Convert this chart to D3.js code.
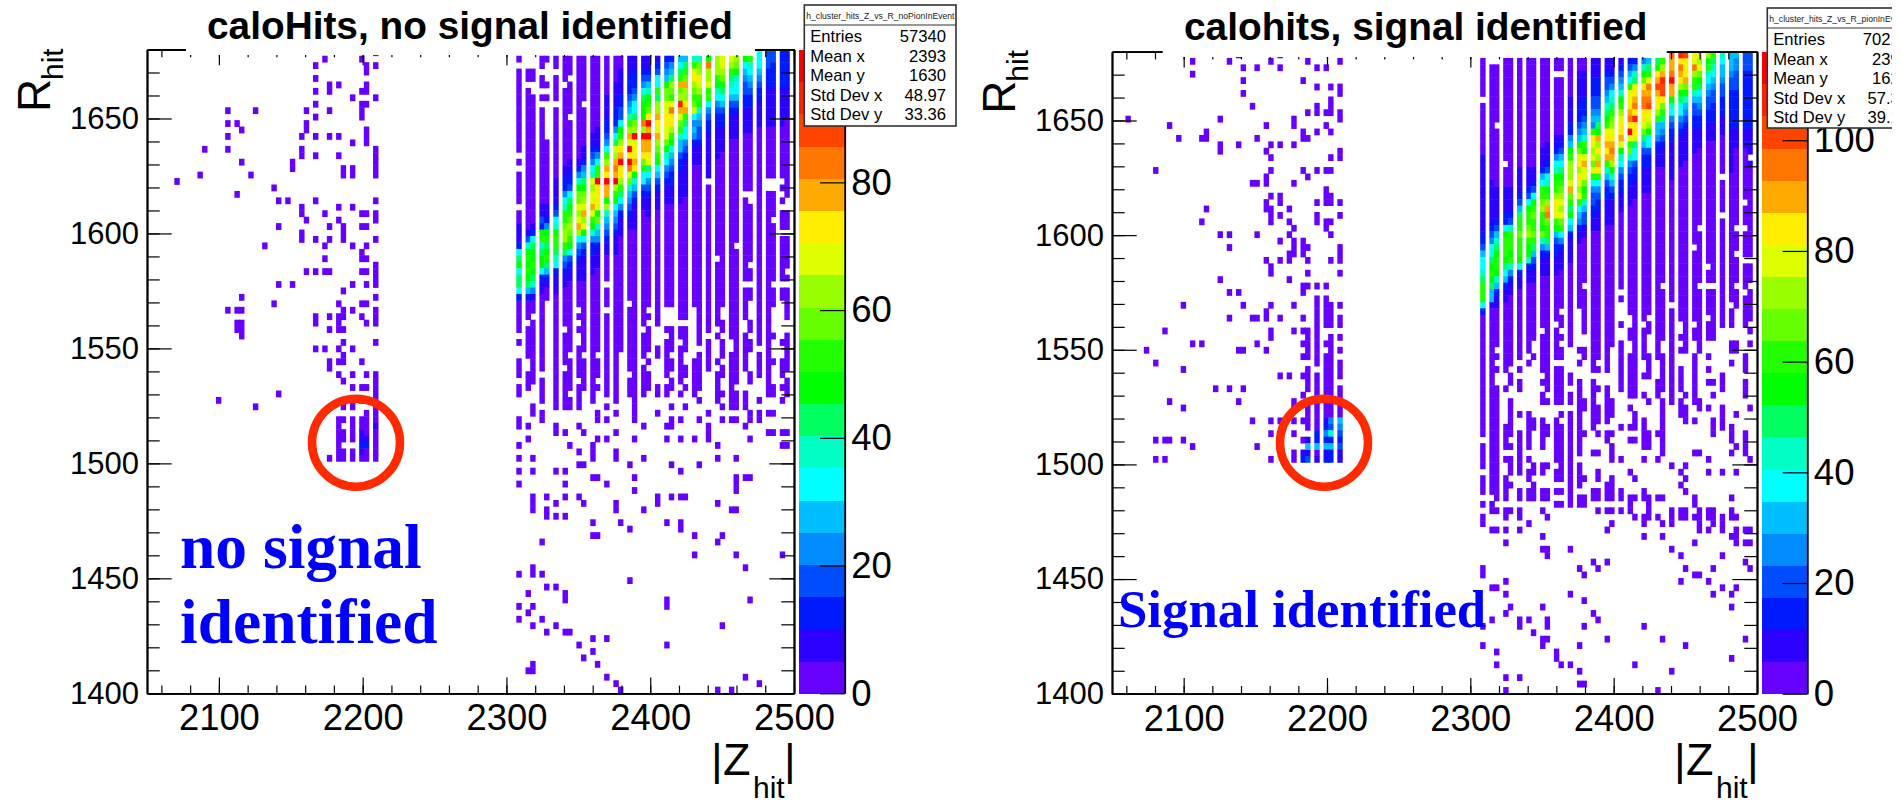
<!DOCTYPE html>
<html lang="en">
<head>
    <meta charset="UTF-8">
    <title>calo hits</title>
    <script src="https://cdn.jsdelivr.net/npm/d3@7"></script>
    <style>
        body { margin: 0; background: white; }
        text { font-family: "Liberation Sans", sans-serif; fill: black; }
        .axis path { stroke: black; stroke-width: 1.8; }
        .axis line { stroke: black; stroke-width: 1.2; }
    </style>
</head>
<body>
    <script>
        //histogram binning and tick labels
        var zRange = [2050, 2500];
        var rRange = [1400, 1680];
        var zBins = 140;
        var rBins = 100;
        var zMajor = [2100, 2200, 2300, 2400, 2500];
        var rMajor = [1400, 1450, 1500, 1550, 1600, 1650];
        var barTicks = [0, 20, 40, 60, 80, 100];

        //one colour per contour level, bottom to top
        var palette = ['#6600ff', '#2b00ff', '#0019ff', '#004cff', '#008cff', '#00bfff', '#00ffff', '#00ffc4',
            '#00ff60', '#00ff00', '#22ff00', '#66ff00', '#99ff00', '#ddff00', '#ffee00', '#ffaa00',
            '#ff7700', '#ff4400', '#ff2200', '#ff0000'];

        //z bins of the densely filled columns (counted from bin 80)
        var ridgeCols = [0, 2, 3, 5, 6, 8, 10, 11, 13, 14, 16, 17, 19, 21, 22, 24, 25, 27, 28, 30, 32, 33, 35, 36, 38, 39,
            41, 43, 44, 46, 47, 49, 50, 52, 54, 55, 57, 58];

        //contour level per cell, one string per column, R bin 98 downwards (. = empty)
        var leftRidge = [
            '0.00000000 00000.0.00 000.001112 68968862',
            '..00.00000 0000000000 0000000137 9a9a9852',
            '..00..0000 0000000000 0000001268 99a98741',
            '00.00.0.00 0000000000 00011329a7 89962110',
            '0...0.0... ...0000000 00011249a8 9a852100',
            '00.0000.00 0000000001 11123679aa 87621110',
            '0000.00000 0000000112 2467aabcca 84321100',
            '000.00000. 0000001122 3689abcba9 63211000',
            '0000000000 0000001247 9bbdcdfc64 32111000',
            '0000000.00 0000112458 9bcdfcd963 21111000',
            '0000000000 001123467d cddfda9742 21110000',
            '0000000000 0111246aaj eeed9b7542 11100000',
            '0000001111 22346acfej ff9c754321 10000.00',
            '0000111122 2468dcfgfj ca96543211 10000000',
            '0011112233 69acefjeec a864211100 00000000',
            '1112223457 acfdjejgdb 7543211000 00000000',
            '1122234668 bcjdeefe97 5321111000 00000000',
            '1123468999 gcjffeba66 3211000000 00000000',
            '1123579abe jfjffed864 3211100000 00000000',
            '12366a8ccf edfcba9653 2111000000 00000000',
            '23459bbdde eddb976432 1110000000 00000000',
            '2458cbadge eca9654322 1110000000 00000000',
            '568afbcifd ba75532211 1110000000 00000000',
            '58abfccefa 8664321111 1100000000 00000000',
            '7adecbabd6 4542111000 0000000000 00000000',
            '7bcedca975 4332111000 0000000000 00000000',
            '9gccdaa643 221111111. 0000000000 00000000',
            'ccca976432 2111110000 0000000000 0.000000',
            'ddcb986532 2111100000 0000000000 00000000',
            'dca8765321 1110000000 0000000000 00000000',
            'cb97665321 1110000000 000000000. 00000000',
            '9654332211 1100000000 0.00000000 00000.00',
            'a765432211 1100000000 0..0000000 00.00.00',
            '6654322111 1000000000 0000000000 00000000',
            '3322211111 100000000. .000000000 00000000',
            '3222211111 100000000. .0000.0000 00000.00',
            '2222211111 100000000. 0.0.000.00 00000.00',
            '2222211111 0000000000 00..000.00 000.0.00'
        ];

        //same, right plot; first columns carry on to R bin 58
        var rightRidge = [
            '000000.000 0000011111 1111111223 56678aaa 620',
            '.000000000 0000000001 1111112346 689a9855 100',
            '.000000000 .000000000 1111123578 9aa97521 100',
            '0000000000 000000.000 1111226 9aa a9865211',
            '0000000000 0000000000 1111237aaa 9a742110',
            '0000000000 0000000111 12358aabaa a9621100',
            '0000000000 0000000111 2369aabca9 97211000',
            '0000000000 0000000112 369abaaba8 53211000',
            '0000000000 0000111256 aabcaa9b74 21110000',
            '0000000000 0001112367 9acfgbaa85 21110000',
            '00.0000000 001124679a acedea9532 21110000',
            '00.0000000 001235689a bcdcdba642 11100000',
            '0000001111 22459acccd fba8965211 11000000',
            '0011111222 3459bdeced cda6542110 00000000',
            '0011112223 457a9dfddb 9a75331100 00000.00',
            '1112223345 4aedcdbda6 4332211000 00000000',
            '1112223345 89fcecfea6 4322111000 00000000',
            '1123345789 aeefefa753 2211110000 00000000',
            '11234678ab cdefgfc975 3211110000 00000000',
            '1234579acd eefd976432 2111000000 000000.0',
            '2356addefg ejdab74322 1110000000 00000000',
            '2478defgei eed8663221 1100000000 00000000',
            '479befggee db85322111 1000000000 00000000',
            '58adgfghed c966322111 1000000000 00000000',
            '89efhfeeca 5542211000 0000000000 00000000',
            'acfihheba8 5432111000 0000000000 00000.00',
            'ffgjff9764 3221111110 0000000000 00000000',
            'egfec98664 3211111000 0000000000 00000000',
            'eeefb97543 2111110000 0000000000 00000000',
            'dgcaa75332 2111100000 000000000. 00000000',
            'cdb9865432 2111000000 000000.000 00000.00',
            '9a76543322 1110000000 0000000000 00.00.00',
            '8765433222 1110000000 0000000000 00000.00',
            '6554332221 11000000.0 0000.00000 00000000',
            '5543322222 2111111100 0000000000 00000000',
            '4433322222 2111000000 000000.000 .0000.00',
            '3322222222 2111000000 00.000.000 0.0000.0',
            '3322222222 21111.1000 0000000000 0.000.00'
        ];

        //cells of the top row that stay visible: [column, level]
        var leftTopRow = [[52, 6], [54, 3], [55, 3], [57, 2], [58, 2]];
        var rightTopRow = [[41, 16], [43, 18], [44, 17], [46, 14], [47, 13], [49, 12], [50, 10], [52, 7], [54, 5], [55, 5], [57, 3], [58, 3]];

        //single hits below the ridge: [R bin, columns counted from bin 80...]
        var leftOuter = [
            [60, 0, 2, 3, 5, 8, 10, 11, 13, 14, 16, 17, 19, 21, 22, 25, 27, 28, 30, 32, 33, 35, 36, 38, 39, 41, 43, 44, 46, 47, 49, 52, 54, 55, 58],
            [59, 0, 2, 3, 5, 8, 10, 11, 14, 16, 17, 21, 22, 24, 25, 27, 30, 35, 36, 39, 41, 43, 46, 47, 49, 52, 54, 58],
            [58, 0, 2, 5, 8, 10, 11, 13, 14, 16, 17, 19, 21, 22, 24, 25, 27, 28, 30, 35, 36, 39, 41, 43, 46, 47, 49, 52, 54, 58],
            [57, 0, 3, 5, 8, 10, 11, 14, 16, 17, 19, 21, 22, 24, 25, 27, 30, 39, 41, 43, 44, 46, 47, 50, 52, 54],
            [56, 0, 2, 3, 5, 8, 11, 13, 14, 16, 17, 19, 21, 22, 24, 25, 28, 32, 33, 35, 36, 39, 41, 44, 46, 47, 50, 52, 54],
            [55, 2, 3, 5, 8, 10, 11, 14, 16, 17, 19, 21, 22, 24, 25, 27, 28, 33, 35, 36, 39, 43, 46, 47, 49, 52, 54, 55, 58],
            [54, 0, 2, 3, 5, 8, 10, 11, 14, 16, 17, 19, 21, 22, 24, 25, 27, 28, 32, 33, 36, 39, 41, 44, 47, 49, 50, 52, 54, 57, 58],
            [53, 2, 3, 5, 8, 10, 11, 13, 14, 16, 17, 19, 21, 22, 24, 25, 27, 28, 30, 32, 33, 35, 36, 41, 44, 47, 49, 50, 54, 58],
            [52, 2, 3, 5, 8, 10, 13, 16, 19, 21, 24, 25, 27, 30, 32, 35, 39, 41, 44, 46, 47, 49, 52, 54, 58],
            [51, 0, 3, 5, 8, 10, 11, 13, 14, 16, 17, 19, 21, 24, 25, 28, 32, 33, 35, 38, 39, 41, 43, 46, 47, 49, 52, 54, 55, 57, 58],
            [50, 0, 3, 5, 8, 11, 13, 14, 16, 17, 19, 21, 24, 25, 27, 32, 33, 35, 36, 38, 39, 41, 44, 46, 47, 49, 52, 54, 57, 58],
            [49, 0, 2, 3, 8, 10, 11, 13, 14, 16, 17, 19, 21, 25, 27, 28, 32, 35, 36, 38, 39, 43, 44, 46, 47, 50, 52, 54, 57],
            [48, 2, 3, 5, 8, 10, 11, 14, 16, 19, 21, 24, 25, 27, 28, 33, 35, 38, 39, 43, 46, 47, 50, 54, 58],
            [47, 0, 2, 5, 8, 10, 11, 13, 14, 16, 17, 19, 21, 24, 25, 27, 28, 30, 32, 33, 36, 38, 39, 43, 46, 54, 55, 57, 58],
            [46, 0, 5, 8, 10, 13, 16, 19, 21, 24, 25, 27, 30, 32, 35, 38, 43, 44, 46, 47, 49, 54, 55, 58],
            [45, 5, 8, 10, 11, 13, 16, 21, 25, 39, 43, 46, 47, 49, 52, 57],
            [44, 3, 8, 10, 11, 13, 19, 25, 33, 36, 44, 46, 47, 49],
            [43, 3, 5, 17, 21, 25, 30, 41, 50, 52, 54, 55],
            [42, 0, 5, 17, 19, 25, 33, 35, 39, 44, 46, 47, 50, 52],
            [41, 0, 2, 8, 13, 27, 32, 33, 41, 49],
            [40, 8, 10, 14, 21, 41, 54, 55, 57, 58],
            [39, 2, 17, 19, 25, 32, 35, 38, 41, 50],
            [38, 0, 11, 16, 43, 57, 58],
            [37, 13, 16, 21],
            [36, 0, 3, 16, 21, 27, 43, 47],
            [35, 13, 14, 24, 33, 39],
            [34, 0, 3, 8, 10, 35],
            [33, 16, 17, 25, 47, 49, 50],
            [32, 0, 10, 19, 47],
            [31, 25, 47],
            [30, 3, 6, 10, 13, 30, 33, 35, 36],
            [29, 3, 8, 14, 21, 30, 43],
            [28, 3, 6, 21, 27, 46, 47],
            [27, 6, 8, 10],
            [26, 16, 22, 32, 35],
            [25, 24, 35],
            [24, 16, 17, 38, 44],
            [23, 5, 43],
            [21, 38, 47, 57],
            [19, 3, 49],
            [18, 0, 3, 5],
            [17, 24],
            [16, 6, 8],
            [15, 2, 10],
            [14, 10, 32, 50],
            [13, 0, 3, 32],
            [12, 2],
            [11, 0, 5],
            [10, 3, 8, 44],
            [9, 6, 10, 11],
            [8, 16, 19],
            [7, 13, 32],
            [6, 16],
            [5, 14],
            [4, 3, 17],
            [3, 2, 3],
            [2, 19, 49],
            [1, 21, 52],
            [0, 22, 43, 46]
        ];

        var rightOuter = [
            [60, 0, 2, 3, 5, 6, 8, 10, 11, 13, 14, 16, 17, 19, 21, 22, 24, 25, 27, 28, 32, 33, 35, 36, 38, 39, 43, 44, 46, 47, 49, 50, 52, 55, 57, 58],
            [59, 5, 6, 8, 10, 11, 13, 14, 16, 19, 22, 24, 25, 27, 28, 32, 33, 35, 36, 38, 39, 41, 43, 44, 46, 47, 49, 50, 52, 54, 57, 58],
            [58, 5, 6, 8, 10, 11, 13, 14, 16, 17, 19, 22, 24, 25, 27, 28, 33, 35, 38, 39, 41, 43, 44, 46, 47, 50, 52, 54, 57, 58],
            [57, 0, 2, 3, 5, 6, 8, 10, 11, 13, 14, 17, 19, 22, 24, 25, 27, 28, 30, 33, 36, 38, 39, 41, 44, 47, 49, 50, 52, 54, 57],
            [56, 0, 2, 3, 5, 6, 8, 10, 11, 14, 16, 19, 22, 24, 25, 27, 28, 32, 33, 35, 36, 38, 39, 41, 44, 46, 47, 49, 50, 58],
            [55, 0, 2, 3, 5, 6, 8, 10, 11, 13, 14, 16, 17, 19, 24, 25, 27, 28, 32, 33, 35, 38, 39, 41, 43, 44, 46, 47, 49, 50],
            [54, 0, 2, 3, 5, 6, 8, 10, 13, 14, 16, 19, 24, 25, 27, 28, 30, 33, 35, 38, 41, 44, 47, 54, 55, 58],
            [53, 0, 2, 5, 6, 8, 10, 13, 14, 16, 17, 21, 22, 24, 25, 27, 30, 33, 35, 38, 41, 43, 44, 47, 54, 55],
            [52, 0, 2, 3, 5, 6, 8, 11, 13, 14, 16, 17, 22, 24, 25, 27, 30, 32, 33, 35, 36, 38, 39, 41, 46, 49, 57],
            [51, 0, 2, 5, 6, 10, 13, 14, 21, 24, 27, 30, 32, 33, 36, 39, 41, 46, 54, 57],
            [50, 0, 2, 3, 5, 8, 13, 14, 16, 17, 24, 25, 27, 30, 32, 33, 36, 39, 41, 43, 46, 49, 57],
            [49, 0, 2, 6, 14, 16, 17, 19, 30, 32, 33, 35, 36, 39, 41, 43, 46, 52],
            [48, 0, 2, 6, 8, 13, 14, 16, 17, 19, 21, 24, 30, 32, 33, 38, 39, 41, 43, 46, 49, 50, 52, 57],
            [47, 0, 2, 3, 5, 8, 14, 16, 17, 21, 24, 25, 27, 30, 32, 33, 38, 39, 41, 43, 46, 52, 57],
            [46, 0, 2, 3, 13, 16, 17, 19, 21, 24, 27, 32, 33, 35, 38, 41, 44, 46, 50, 57],
            [45, 0, 2, 3, 6, 13, 14, 16, 17, 19, 21, 22, 24, 27, 28, 36, 39, 41, 43, 46, 47],
            [44, 0, 2, 3, 6, 21, 22, 24, 25, 27, 28, 32, 39, 43, 44, 47, 49, 52, 58],
            [43, 0, 2, 3, 6, 8, 10, 17, 19, 21, 24, 25, 27, 28, 33, 39, 43, 44, 52, 55],
            [42, 0, 2, 3, 6, 10, 11, 13, 16, 19, 21, 24, 25, 27, 33, 35, 39, 44, 46, 50, 52],
            [41, 0, 2, 3, 5, 6, 10, 11, 13, 14, 16, 17, 19, 21, 24, 30, 32, 33, 35, 39, 50, 52, 54],
            [40, 0, 2, 3, 5, 6, 8, 10, 13, 14, 16, 17, 19, 21, 22, 25, 27, 28, 35, 36, 38, 39, 50, 54, 57],
            [39, 2, 3, 5, 8, 10, 13, 16, 17, 19, 21, 27, 32, 33, 35, 36, 39, 54, 57],
            [38, 0, 2, 3, 5, 6, 8, 10, 13, 16, 17, 19, 21, 28, 35, 36, 39, 55, 57],
            [37, 0, 2, 3, 8, 16, 17, 19, 21, 24, 25, 28, 39, 46, 47, 54, 57],
            [36, 0, 2, 3, 5, 6, 8, 10, 16, 17, 19, 28, 30, 35, 38, 49, 58],
            [35, 0, 2, 3, 6, 8, 11, 13, 14, 17, 19, 21, 41, 44],
            [34, 2, 3, 6, 8, 10, 11, 13, 16, 17, 19, 21, 25, 32, 43, 49, 52, 55],
            [33, 0, 2, 3, 5, 10, 16, 17, 19, 21, 22, 25, 28, 33, 44],
            [32, 0, 2, 3, 5, 6, 11, 19, 21, 27, 28, 43],
            [31, 0, 2, 3, 5, 8, 10, 11, 13, 14, 16, 17, 19, 24, 25, 27, 28, 30, 35, 44],
            [30, 3, 5, 8, 10, 11, 13, 14, 19, 21, 22, 24, 25, 27, 28, 30, 32, 33, 35, 36, 38, 39, 46, 54],
            [29, 0, 2, 16, 17, 19, 21, 22, 32, 36, 46],
            [28, 2, 3, 5, 6, 8, 13, 25, 27, 28, 30, 32, 36, 41, 43, 44, 47, 49, 50, 54],
            [27, 0, 5, 8, 14, 33, 35, 36, 38, 41, 43, 44, 46, 47, 49, 50, 52, 54, 55],
            [26, 0, 10, 28, 35, 39, 41, 47, 50, 52],
            [25, 2, 3, 5, 8, 27, 47, 49, 52, 55, 57, 58],
            [24, 13, 35, 39, 54, 55],
            [23, 5, 46, 55, 57, 58],
            [22, 13, 14, 19, 41],
            [21, 14, 43, 52],
            [20, 24, 27, 57],
            [19, 0, 21, 25, 44, 50, 58],
            [18, 0, 22, 46, 47],
            [17, 5, 43, 49],
            [16, 2, 3, 52, 55],
            [15, 5, 19, 50, 54],
            [14, 22],
            [13, 6, 13, 54],
            [12, 5, 24],
            [11, 2, 8, 10, 14, 25],
            [10, 0, 8, 14, 22, 35],
            [9, 11],
            [8, 13, 14, 27, 39, 57],
            [7, 0, 13, 21, 44],
            [6, 3, 16],
            [5, 16, 54],
            [4, 3, 17, 19, 33],
            [3, 21, 41],
            [2, 5, 8],
            [1, 21, 22],
            [0, 5, 38]
        ];

        //hits of the inner part: [R bin, z bins...]
        var leftInner = [
            [99, 49], [98, 38, 46], [97, 36, 47, 49], [96, 47], [95, 36], [94, 39, 41, 47], [93, 36, 39, 46, 47], [92, 44, 49], [91, 36, 46, 47],
            [90, 17, 23, 34, 39, 46], [89, 36, 46], [88, 17, 19, 34], [87, 20, 34, 47], [86, 17, 33, 36, 39, 41, 47], [85, 44, 47],
            [84, 12, 17, 33, 49], [83, 33, 36, 41, 49], [82, 20, 31, 49], [81, 31, 42, 44, 49], [80, 11, 22, 42, 44, 49],
            [79, 6], [78, 27], [77, 19], [76, 28, 30, 36, 49], [75, 33, 41, 44], [74, 33, 38, 46, 47, 49], [73, 34, 41, 49],
            [72, 28, 39, 42, 46, 47], [71, 33, 42], [70, 33, 36, 39, 42, 49], [69, 25, 38, 44, 47], [68, 46], [67, 38, 46, 47], [66, 49],
            [65, 34, 36, 38, 39, 46, 47, 49], [64, 49], [63, 28, 31, 44, 47, 49], [62, 42], [61, 20, 49], [60, 27, 41, 46, 47],
            [59, 17, 19, 20, 42, 44, 49], [58, 36, 39, 41, 42, 46, 49], [57, 19, 20, 36, 41, 47, 49], [56, 19, 20, 39, 41, 42], [55, 20],
            [54, 42, 49], [53, 36, 38, 41, 44], [52, 42], [51, 39, 41, 42, 46], [50, 39], [49, 41, 44, 47, 49], [48, 42, 49],
            [47, 44, 46, 47, 49], [46, 28, 49], [45, 15, 42, 44, 46, 47, 49], [44, 23, 42, 44, 49], [43, 47, 49],
            [42, 41, 42, 44, 46, 47, 49], [41, 41, 44, 46, 47, 49], [40, 41, 42, 44, 46, 47, 49], [39, 41, 42, 44, 46, 47, 49],
            [38, 41, 46, 47, 49], [37, 41, 42, 44, 46, 47, 49], [36, 39, 41, 42, 44, 46, 47, 49]
        ];

        var rightInner = [
            [99, 27, 36], [98, 17, 25, 34, 42, 49], [97, 28, 31, 36, 44, 46], [96, 17], [95, 28, 41], [94, 44, 47, 49], [93, 28, 49], [92, 47],
            [91, 30, 44, 47], [90, 42, 44, 46, 47, 49], [89, 3, 23, 39, 49], [88, 12, 33, 39, 46], [87, 20, 41, 44, 47], [86, 14, 19, 20, 31, 41, 42],
            [85, 23, 27, 34, 36, 39], [84, 23, 33, 49], [83, 34, 47, 49], [81, 9, 34, 41, 44, 46, 47], [80, 33, 42], [79, 30, 31, 33, 39],
            [78, 46], [77, 34, 36, 46, 47], [76, 33, 36, 44, 46, 47, 49], [75, 20, 33, 34, 38], [74, 34, 36, 44, 49], [73, 19, 34, 38, 44, 46, 47],
            [72, 39, 46], [71, 23, 25, 31, 38, 47], [70, 36, 39, 41], [69, 25, 39, 41, 42, 49], [68, 38, 39, 41, 49], [67, 33, 36, 38, 42, 47, 49],
            [66, 34], [65, 34, 42, 49], [64, 23, 38], [63, 41, 42, 44, 46], [62, 25, 27, 41], [61, 44, 46],
            [60, 15, 28, 34, 39, 44, 46, 47, 49], [59, 33, 44, 46, 47], [58, 25, 30, 31, 33, 36, 41, 44, 46, 47, 49], [57, 44, 46, 47, 49],
            [56, 11, 34, 39, 41, 42, 44], [55, 34, 42, 44, 47, 49], [54, 17, 19, 31, 41, 42, 44, 46, 47], [53, 7, 27, 28, 33, 42, 44, 47, 49],
            [52, 41, 42, 44, 46, 47], [51, 9, 44, 46, 47, 49], [50, 15, 42, 46, 47, 49], [49, 36, 38, 41, 42, 44, 46, 47, 49], [48, 42, 44, 46, 47],
            [47, 22, 25, 28, 42, 44, 46, 47, 49], [46, 41, 44, 46, 47, 49], [45, 12, 27, 39, 42, 44, 46, 47, 49], [44, 15, 39, 42, 44, 46, 47, 49],
            [43, 42, 44, 46, 47, 49], [42, 30, 34, 36, 39, 41, 42, 44], [41, 42, 44], [40, 34, 39], [39, 9, 11, 12, 15, 41],
            [38, 17, 31, 36], [37, 39, 41, 42, 44], [36, 9, 11, 34, 39]
        ];

        //inside the circles, cells above the lowest level: [R bin, z bin, level]
        var leftCircle = [[41, 49, 1], [40, 46, 1], [39, 46, 1], [39, 47, 1], [38, 46, 2], [38, 47, 2], [37, 46, 1]];
        var rightCircle = [
            [42, 46, 1], [42, 47, 4], [42, 49, 5], [41, 46, 2], [41, 47, 3], [41, 49, 4], [40, 44, 2], [40, 46, 4], [40, 47, 7], [40, 49, 3],
            [39, 42, 1], [39, 44, 2], [39, 46, 2], [39, 47, 2], [39, 49, 2], [38, 42, 5], [38, 44, 5], [38, 46, 5], [38, 47, 5], [38, 49, 3],
            [37, 41, 1], [37, 42, 1], [37, 46, 1], [37, 47, 2], [37, 49, 1], [36, 41, 2], [36, 42, 3], [36, 44, 1], [36, 46, 2], [36, 47, 2], [36, 49, 1]
        ];

        //stats boxes
        var leftStats = [['Entries', '57340'], ['Mean x', '2393'], ['Mean y', '1630'], ['Std Dev x', '48.97'], ['Std Dev y', '33.36']];
        var rightStats = [['Entries', '70217'], ['Mean x', '2394'], ['Mean y', '1625'], ['Std Dev x', '57.31'], ['Std Dev y', '39.12']];

        var levelChars = '0123456789abcdefghij';

        var svg = d3.select('body')
                    .append('svg')
                    .attr('width', 1901)
                    .attr('height', 800);

        //clip for the right stats box, the picture is cut off there
        svg.append('clipPath')
            .attr('id', 'cut')
            .append('rect')
            .attr('x', 1700).attr('y', 0).attr('width', 192).attr('height', 200);

        function collectCells(ridge, outer, inner, circle, topRow) {
            var cells = new Map();
            function put(i, j, level) {
                cells.set(i + '_' + j, {i: i, j: j, level: level});
            }
            outer.forEach(function(row) {
                row.slice(1).forEach(function(p) { put(80 + p, row[0], 0); });
            });
            inner.forEach(function(row) {
                row.slice(1).forEach(function(i) { put(i, row[0], 0); });
            });
            ridge.forEach(function(s, c) {
                var chars = s.replace(/ /g, '');
                for (var k = 0; k < chars.length; k++) {
                    if (chars[k] !== '.') {
                        put(80 + ridgeCols[c], 98 - k, levelChars.indexOf(chars[k]));
                    }
                }
            });
            topRow.forEach(function(d) { put(80 + d[0], 99, d[1]); });
            circle.forEach(function(d) { put(d[1], d[0], d[2]); });
            return Array.from(cells.values());
        }

        function drawPanel(p) {
            var xScale = d3.scaleLinear().domain(zRange).range([p.left, p.right]);
            var yScale = d3.scaleLinear().domain(rRange).range([p.bottom, p.top]);
            var barScale = d3.scaleLinear().domain([0, p.zMax]).range([p.bottom, p.top]);
            var color = d3.scaleQuantize().domain([0, p.zMax]).range(palette);
            var zw = (zRange[1] - zRange[0]) / zBins;
            var rw = (rRange[1] - rRange[0]) / rBins;

            //cells, a little oversized because the original is slightly blurred
            svg.append('g')
                .selectAll('rect')
                .data(p.cells)
                .enter()
                .append('rect')
                .attr('x', function(d) { return xScale(zRange[0] + d.i * zw) - 0.4; })
                .attr('y', function(d) { return yScale(rRange[0] + (d.j + 1) * rw) - 0.2; })
                .attr('width', xScale(zRange[0] + zw) - xScale(zRange[0]) + 0.8)
                .attr('height', yScale(rRange[0]) - yScale(rRange[0] + rw) + 0.4)
                .attr('fill', function(d) { return color((d.level + 0.5) * p.zMax / palette.length); });

            //axes, ticks point inwards like in ROOT
            var zMinor = d3.range(2060, 2501, 20);
            var rMinor = d3.range(1410, 1680, 10);
            function noText(g) { g.selectAll('text').remove(); }

            svg.append('g').attr('class', 'axis').attr('transform', 'translate(0,' + p.bottom + ')')
                .call(d3.axisBottom(xScale).tickValues(zMajor).tickFormat(d3.format('d')).tickSizeInner(-15.7).tickSizeOuter(0).tickPadding(11))
                .call(function(g) { g.selectAll('text').attr('font-size', 36.4).attr('font-family', '"Liberation Sans"'); });
            svg.append('g').attr('class', 'axis').attr('transform', 'translate(0,' + p.bottom + ')')
                .call(d3.axisBottom(xScale).tickValues(zMinor).tickSizeInner(-7.7).tickSizeOuter(0)).call(noText);
            svg.append('g').attr('class', 'axis').attr('transform', 'translate(0,' + p.top + ')')
                .call(d3.axisTop(xScale).tickValues(zMajor).tickSizeInner(-15.7).tickSizeOuter(0)).call(noText);
            svg.append('g').attr('class', 'axis').attr('transform', 'translate(0,' + p.top + ')')
                .call(d3.axisTop(xScale).tickValues(zMinor).tickSizeInner(-7.7).tickSizeOuter(0)).call(noText);

            svg.append('g').attr('class', 'axis').attr('transform', 'translate(' + p.left + ',0)')
                .call(d3.axisLeft(yScale).tickValues(rMajor).tickFormat(d3.format('d')).tickSizeInner(-24.7).tickSizeOuter(0).tickPadding(8))
                .call(function(g) { g.selectAll('text').attr('font-size', 31).attr('font-family', '"Liberation Sans"'); });
            svg.append('g').attr('class', 'axis').attr('transform', 'translate(' + p.left + ',0)')
                .call(d3.axisLeft(yScale).tickValues(rMinor).tickSizeInner(-12.7).tickSizeOuter(0)).call(noText);
            svg.append('g').attr('class', 'axis').attr('transform', 'translate(' + p.right + ',0)')
                .call(d3.axisRight(yScale).tickValues(rMajor).tickSizeInner(-24.7).tickSizeOuter(0)).call(noText);
            svg.append('g').attr('class', 'axis').attr('transform', 'translate(' + p.right + ',0)')
                .call(d3.axisRight(yScale).tickValues(rMinor).tickSizeInner(-12.7).tickSizeOuter(0)).call(noText);

            //a white patch sits over the top edge of the frame
            svg.append('rect')
                .attr('x', p.patch[0]).attr('y', p.top - 2)
                .attr('width', p.patch[1] - p.patch[0]).attr('height', p.patch[2] - p.top + 2)
                .attr('fill', 'white');

            //palette bar
            svg.append('g')
                .attr('shape-rendering', 'crispEdges')
                .selectAll('rect')
                .data(palette)
                .enter()
                .append('rect')
                .attr('x', p.barLeft)
                .attr('y', function(d, i) { return barScale((i + 1) * p.zMax / palette.length); })
                .attr('width', p.barRight - p.barLeft)
                .attr('height', (p.bottom - p.top) / palette.length + 0.5)
                .attr('fill', function(d) { return d; });
            svg.append('g').attr('class', 'axis').attr('transform', 'translate(' + p.barRight + ',0)')
                .call(d3.axisRight(barScale).tickValues(barTicks).tickFormat(d3.format('d')).tickSizeInner(-24.7).tickSizeOuter(0).tickPadding(6.5))
                .call(function(g) {
                    g.select('path').attr('stroke-width', 1.2);
                    g.selectAll('text').attr('font-size', 36.6).attr('font-family', '"Liberation Sans"');
                });

            //title
            svg.append('text')
                .text(p.title)
                .attr('x', p.titleX).attr('y', p.titleY)
                .attr('font-size', 38.8).attr('font-weight', 'bold');

            //y title
            var yLabel = svg.append('g').attr('transform', 'translate(' + p.yLabel[0] + ',' + p.yLabel[1] + ') rotate(-90)');
            yLabel.append('text').text('R').attr('font-size', 46);
            yLabel.append('text').text('hit').attr('font-size', 30).attr('x', 32).attr('y', 13);

            //x title
            var xl = svg.append('g').attr('transform', 'translate(' + p.xLabel + ',775)');
            xl.append('text').text('|').attr('font-size', 45).attr('x', 0);
            xl.append('text').text('Z').attr('font-size', 45).attr('x', 12);
            xl.append('text').text('hit').attr('font-size', 30).attr('x', 42).attr('y', 23);
            xl.append('text').text('|').attr('font-size', 45).attr('x', 73);

            //circle
            svg.append('circle')
                .attr('cx', p.circle[0]).attr('cy', p.circle[1]).attr('r', 44)
                .attr('fill', 'none').attr('stroke', '#ff2a00').attr('stroke-width', 8.5);

            //note
            p.notes.forEach(function(n) {
                svg.append('text')
                    .text(n[0])
                    .attr('x', n[1]).attr('y', n[2])
                    .attr('font-size', n[3])
                    .attr('font-weight', 'bold')
                    .style('font-family', '"Liberation Serif", serif')
                    .style('fill', '#0000ff');
            });

            //stats box
            var box = svg.append('g').attr('clip-path', p.clip ? 'url(#cut)' : null);
            box.append('rect')
                .attr('x', p.box[0]).attr('y', p.box[1])
                .attr('width', p.box[2]).attr('height', p.box[3])
                .attr('fill', 'white').attr('stroke', '#333').attr('stroke-width', 1.6);
            box.append('line')
                .attr('x1', p.box[0]).attr('x2', p.box[0] + p.box[2])
                .attr('y1', p.box[1] + 20).attr('y2', p.box[1] + 20)
                .attr('stroke', '#333').attr('stroke-width', 1.2);
            box.append('text')
                .text(p.boxTitle)
                .attr('x', p.box[0] + 2).attr('y', p.box[1] + 13.5)
                .attr('font-size', 8.6).style('fill', '#222');
            p.stats.forEach(function(s, i) {
                var y = p.box[1] + 37 + i * 19.6;
                box.append('text').text(s[0])
                    .attr('x', p.box[0] + 6).attr('y', y).attr('font-size', 16.6);
                box.append('text').text(s[1])
                    .attr('x', p.box[0] + p.box[2] - 10).attr('y', y)
                    .attr('text-anchor', 'end').attr('font-size', 16.6);
            });
        }

        drawPanel({
            cells: collectCells(leftRidge, leftOuter, leftInner, leftCircle, leftTopRow),
            left: 147, right: 794, bottom: 693.3, top: 49.5,
            zMax: 100.8, barLeft: 799, barRight: 844.7,
            patch: [186, 755, 55],
            title: 'caloHits, no signal identified', titleX: 207, titleY: 39,
            yLabel: [50, 112], xLabel: 711,
            circle: [356, 442.7],
            notes: [['no signal', 180, 568.3, 63.5], ['identified', 180, 643, 63.5]],
            box: [804.3, 5, 151.7, 121], boxTitle: 'h_cluster_hits_Z_vs_R_noPionInEvent',
            stats: leftStats, clip: false
        });

        drawPanel({
            cells: collectCells(rightRidge, rightOuter, rightInner, rightCircle, rightTopRow),
            left: 1112, right: 1757, bottom: 693.7, top: 51.7,
            zMax: 116, barLeft: 1761.7, barRight: 1807.3,
            patch: [1162.7, 1666.7, 57],
            title: 'calohits, signal identified', titleX: 1184, titleY: 40,
            yLabel: [1015, 113.7], xLabel: 1674,
            circle: [1324, 442.7],
            notes: [['Signal identified', 1118, 626.7, 52.8]],
            box: [1767.3, 8, 151.7, 120], boxTitle: 'h_cluster_hits_Z_vs_R_pionInEvent',
            stats: rightStats, clip: true
        });
    </script>
</body>
</html>
